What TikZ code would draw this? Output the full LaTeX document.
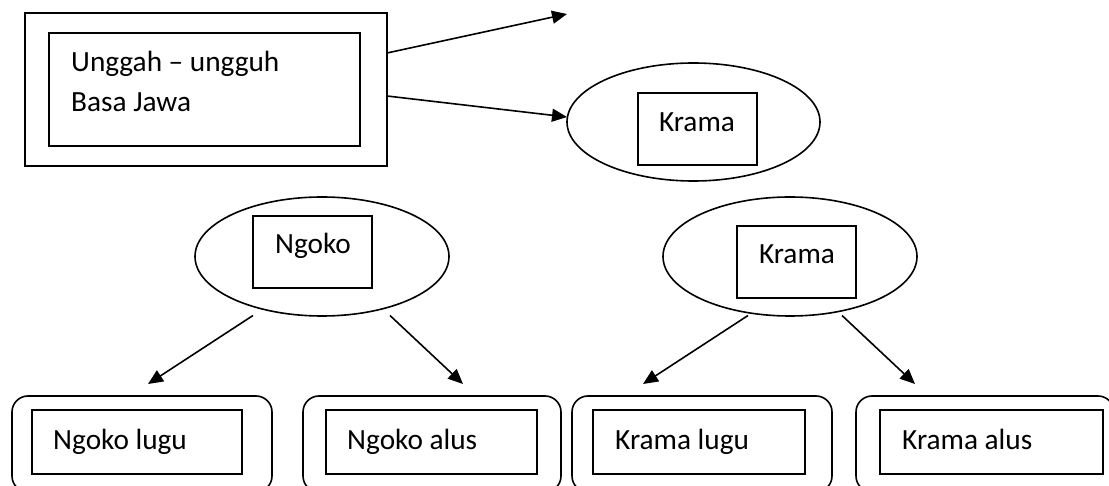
\documentclass[tikz,border=0pt]{standalone}
\usepackage{fontspec}
\setmainfont{Carlito}
\usetikzlibrary{shapes.geometric,arrows.meta}
\begin{document}
\begin{tikzpicture}[x=1pt,y=-1pt,
  lw/.style={line width=1.6pt},
  sqbox/.style={draw,lw,rectangle,inner sep=0pt,outer sep=0pt},
  rbox/.style={draw,lw,rectangle,rounded corners=16pt,inner sep=0pt,outer sep=0pt},
  oval/.style={draw,lw,ellipse,inner sep=0pt,outer sep=0pt,minimum width=254pt,minimum height=119pt},
  txt/.style={inner sep=0pt,font=\fontsize{29.3}{35}\selectfont},
  arr/.style={lw,-{Triangle[length=15pt,width=13pt]}}]
\useasboundingbox (0,0) rectangle (1109,486);
% top-left double box
\node[sqbox,minimum width=362pt,minimum height=153pt] (top) at (206,89.5) {};
\node[sqbox,minimum width=311pt,minimum height=113pt] (topin) at (204.5,89.5) {};
\node[txt,anchor=base west] (t1) at (71,72) {Unggah – ungguh};
\node[txt,anchor=base west] (t2) at (71,112) {Basa Jawa};
% top ellipse
\node[oval,minimum width=253pt,minimum height=118pt] (k1) at (693.5,122) {};
\node[sqbox,minimum width=119pt,minimum height=72pt] (k1r) at (697.5,129) {};
\node[txt,anchor=base] (k1t) at (697,132) {Krama};
\coordinate (free) at (567,14);
\draw[arr] ([yshift=36.5pt]top.east) -- (free);
\draw[arr] ([yshift=-6.5pt]top.east) -- ([yshift=5pt]k1.west);
% middle ellipses
\node[oval] (ng) at (322,256.5) {};
\node[sqbox,minimum width=119pt,minimum height=72pt] (ngr) at (312.5,252) {};
\node[txt,anchor=base] (ngt) at (313,254) {Ngoko};
\node[oval] (kr) at (790,256.5) {};
\node[sqbox,minimum width=119pt,minimum height=72pt] (krr) at (796.5,262) {};
\node[txt,anchor=base] (krt) at (797,264) {Krama};
% bottom boxes
\node[rbox,minimum width=260pt,minimum height=96pt] (b1) at (142,444) {};
\node[rbox,minimum width=258pt,minimum height=96pt] (b2) at (432,444) {};
\node[rbox,minimum width=260pt,minimum height=96pt] (b3) at (702,444) {};
\node[rbox,minimum width=258pt,minimum height=96pt] (b4) at (985,444) {};
\node[sqbox,minimum width=210pt,minimum height=64pt] (i1) at (137,442) {};
\node[sqbox,minimum width=211pt,minimum height=64pt] (i2) at (431.5,442) {};
\node[sqbox,minimum width=212pt,minimum height=64pt] (i3) at (699,442) {};
\node[sqbox,minimum width=223pt,minimum height=64pt] (i4) at (991.5,442) {};
\node[txt,anchor=base west] (l1) at (53,449) {Ngoko lugu};
\node[txt,anchor=base west] (l2) at (347,449) {Ngoko alus};
\node[txt,anchor=base west] (l3) at (615,449) {Krama lugu};
\node[txt,anchor=base west] (l4) at (902,449) {Krama alus};
% arrows down
\draw[arr] ([xshift=-69pt,yshift=0.5pt]ng.south) -- ([xshift=6pt,yshift=12pt]b1.north);
\draw[arr] ([xshift=68pt,yshift=0.5pt]ng.south) -- ([xshift=31pt,yshift=12pt]b2.north);
\draw[arr] ([xshift=-42pt,yshift=0.5pt]kr.south) -- ([xshift=-59pt,yshift=12pt]b3.north);
\draw[arr] ([xshift=52pt,yshift=0.5pt]kr.south) -- ([xshift=-70pt,yshift=12pt]b4.north);
\end{tikzpicture}
\end{document}
